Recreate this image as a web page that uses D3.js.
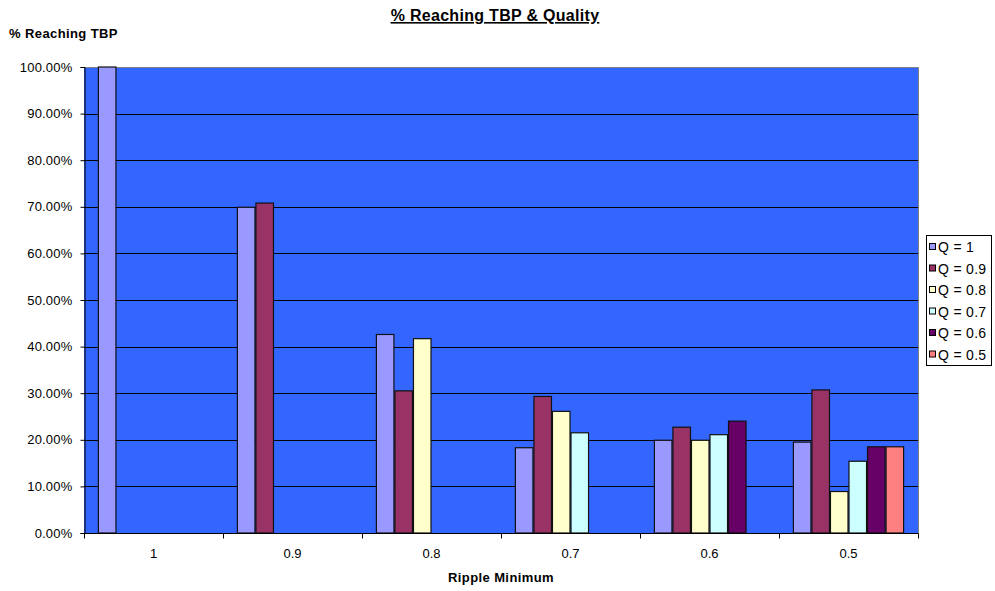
<!DOCTYPE html>
<html>
<head>
<meta charset="utf-8">
<script src="https://cdn.jsdelivr.net/npm/d3@7"></script>
<style>
  html, body { margin: 0; padding: 0; background: #fff; }
  svg { display: block; font-family: "Liberation Sans", Arial, sans-serif; }
</style>
</head>
<body>
<svg id="chart" width="995" height="591"></svg>
<script>
// Ripple minimum categories along the x axis
const categories = ["1", "0.9", "0.8", "0.7", "0.6", "0.5"];
// Quality series names
const seriesNames = ["Q = 1", "Q = 0.9", "Q = 0.8", "Q = 0.7", "Q = 0.6", "Q = 0.5"];
const seriesColors = ["#9999FF", "#993366", "#FFFFCC", "#CCFFFF", "#660066", "#FF8080"];
// % reaching TBP per series, one value per category (null = no bar)
const q10 = [100.0, 69.9, 42.6, 18.3, 19.9, 19.5];
const q09 = [null, 70.8, 30.5, 29.3, 22.7, 30.7];
const q08 = [null, null, 41.7, 26.1, 19.9, 8.9];
const q07 = [null, null, null, 21.5, 21.1, 15.4];
const q06 = [null, null, null, null, 24.0, 18.5];
const q05 = [null, null, null, null, null, 18.5];
const seriesValues = [q10, q09, q08, q07, q06, q05];
const yTicks = [0, 10, 20, 30, 40, 50, 60, 70, 80, 90, 100];

const svg = d3.select("#chart");
const plot = { left: 84, right: 918, top: 67, bottom: 533 };

const x = d3.scaleBand().domain(categories).range([plot.left, plot.right]).paddingInner(0).paddingOuter(0);
// 150% gap width: each band holds 6 bars plus 1.5 bar-widths of space
const barW = x.bandwidth() / (seriesNames.length + 1.5);
const x1 = d3.scaleBand().domain(seriesNames)
  .range([barW * 0.75, barW * 0.75 + barW * seriesNames.length]);
const y = d3.scaleLinear().domain([0, 100]).range([plot.bottom, plot.top]);

// Plot background
svg.append("rect")
  .attr("x", plot.left).attr("y", plot.top)
  .attr("width", plot.right - plot.left).attr("height", plot.bottom - plot.top)
  .attr("fill", "#3366FF");

// Top and right frame
svg.append("path")
  .attr("d", `M${plot.left},${plot.top + 0.5}H${plot.right + 0.5}V${plot.bottom}`)
  .attr("fill", "none").attr("stroke", "#808080").attr("stroke-width", 1);

// Gridlines
svg.append("g").selectAll("line")
  .data(yTicks.filter(d => d > 0 && d < 100))
  .join("line")
  .attr("x1", plot.left).attr("x2", plot.right)
  .attr("y1", d => Math.round(y(d)) + 0.5).attr("y2", d => Math.round(y(d)) + 0.5)
  .attr("stroke", "#000").attr("stroke-width", 1.2);

// Bars
const groups = svg.append("g").selectAll("g")
  .data(categories)
  .join("g")
  .attr("transform", d => `translate(${x(d)},0)`);

groups.selectAll("rect")
  .data((c, ci) => seriesNames.map((s, si) => ({ s, si, v: seriesValues[si][ci] })).filter(d => d.v != null))
  .join("rect")
  .attr("x", d => x1(d.s) + 0.5)
  .attr("y", d => y(d.v))
  .attr("width", x1.bandwidth() - 1)
  .attr("height", d => y(0) - y(d.v))
  .attr("fill", d => seriesColors[d.si])
  .attr("stroke", "#111")
  .attr("stroke-width", 1.2);

// Y axis
const yAxis = d3.axisLeft(y).tickValues(yTicks).tickSize(4).tickPadding(8)
  .tickFormat(d => d3.format(".2f")(d) + "%");
const gy = svg.append("g").attr("transform", `translate(${plot.left + 0.5},0)`).call(yAxis);
gy.select(".domain").attr("stroke", "#000");
gy.selectAll(".tick line").attr("stroke", "#000");
gy.selectAll(".tick text").attr("font-size", 13).attr("fill", "#000")
  .attr("letter-spacing", 0.2)
  .attr("font-family", "'Liberation Sans', Arial, sans-serif");

// X axis: ticks at category boundaries, labels centred in each band
const gx = svg.append("g").attr("transform", `translate(0,${plot.bottom + 0.5})`);
gx.append("line").attr("x1", plot.left).attr("x2", plot.right + 0.5)
  .attr("stroke", "#000");
const bounds = categories.map(c => x(c)).concat([plot.right]);
gx.selectAll("line.tk").data(bounds).join("line").attr("class", "tk")
  .attr("x1", d => Math.round(d) + 0.5).attr("x2", d => Math.round(d) + 0.5)
  .attr("y1", 0).attr("y2", 5).attr("stroke", "#000");
gx.selectAll("text").data(categories).join("text")
  .attr("x", d => x(d) + x.bandwidth() / 2)
  .attr("y", 24)
  .attr("text-anchor", "middle")
  .attr("font-size", 13)
  .text(d => d);

// Title
svg.append("text")
  .attr("x", 495).attr("y", 21)
  .attr("text-anchor", "middle")
  .attr("font-size", 16).attr("font-weight", "bold")
  .attr("letter-spacing", 0.3)
  .attr("text-decoration", "underline")
  .text("% Reaching TBP & Quality");

// Axis titles
svg.append("text")
  .attr("x", 9).attr("y", 38)
  .attr("font-size", 13).attr("font-weight", "bold")
  .attr("letter-spacing", 0.4)
  .text("% Reaching TBP");
svg.append("text")
  .attr("x", 501).attr("y", 582)
  .attr("text-anchor", "middle")
  .attr("font-size", 13).attr("font-weight", "bold")
  .attr("letter-spacing", 0.4)
  .text("Ripple Minimum");

// Legend
const legend = svg.append("g");
legend.append("rect")
  .attr("x", 926.5).attr("y", 235.5).attr("width", 65).attr("height", 130)
  .attr("fill", "#fff").attr("stroke", "#000").attr("stroke-width", 1);
const li = legend.selectAll("g.item").data(seriesNames).join("g").attr("class", "item")
  .attr("transform", (d, i) => `translate(0,${247 + i * 21.5})`);
li.append("rect")
  .attr("x", 929.5).attr("y", -3.5).attr("width", 6).attr("height", 6)
  .attr("fill", (d, i) => seriesColors[i]).attr("stroke", "#000").attr("stroke-width", 1);
li.append("text")
  .attr("x", 938).attr("y", 5)
  .attr("font-size", 14)
  .attr("letter-spacing", 0.3)
  .text(d => d);
</script>
</body>
</html>
